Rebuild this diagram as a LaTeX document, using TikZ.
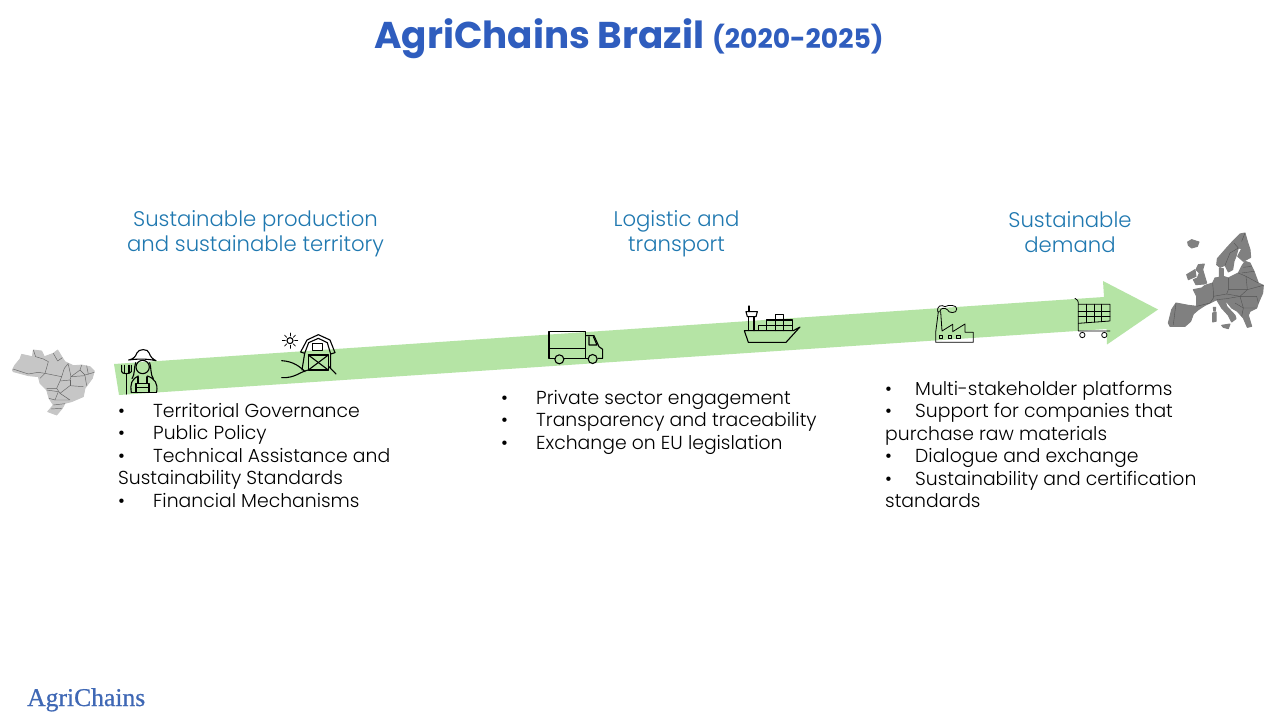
\documentclass[tikz,border=0pt]{standalone}
\usepackage{fontspec}
\setmainfont{Poppins}
\newfontfamily\lightfont{Poppins Light}
\newfontfamily\logofont[FakeBold=0.6]{Liberation Serif}
\definecolor{titleblue}{HTML}{2F5DBE}
\definecolor{headblue}{HTML}{1F78B0}
\definecolor{arrowgreen}{HTML}{B5E4A5}
\definecolor{logoblue}{HTML}{3F68B5}
\definecolor{brazilgray}{HTML}{C6C6C6}
\definecolor{europegray}{HTML}{808080}
\tikzset{
  heading/.style={text=headblue,align=center,font=\lightfont\fontsize{21.2}{25}\selectfont,inner sep=0pt},
  bulletlist/.style={text=black,align=left,anchor=north west,font=\lightfont\fontsize{18.8}{22.5}\selectfont,inner sep=0pt},
  icon/.style={draw=black,line width=1.1pt,line join=round,line cap=round},
  thinicon/.style={draw=black,line width=0.8pt,line join=round,line cap=round},
  brazilmap/.style={fill=brazilgray,draw=brazilgray,line width=0.8pt,line join=round},
  brazilborder/.style={draw=brazilgray!50!black,line width=0.45pt,line join=round},
  europemap/.style={fill=europegray,draw=europegray,line width=1pt,line join=round},
  europeborder/.style={draw=europegray!65!black,line width=0.4pt,line join=round},
}
\newcommand{\bul}[1]{\makebox[#1][l]{•}}
\begin{document}
\begin{tikzpicture}[x=1pt,y=-1pt]
\useasboundingbox (0,0) rectangle (1280,720);
\fill[white] (0,0) rectangle (1280,720);

% arrow
\fill[arrowgreen] (114,364) -- (1104,297) -- (1103,281) -- (1158,309.5) -- (1107,344.5) -- (1106.5,329) -- (119,395) -- cycle;

% title
\node[inner sep=0pt,anchor=base,text=titleblue] (title) at (629,48) {\fontsize{37.3}{40}\selectfont\bfseries AgriChains Brazil \fontsize{26.7}{40}\selectfont (2020-2025)};

% headings
\node[heading] (h1) at (255.5,234) {Sustainable production\\and sustainable territory};
\node[heading] (h2) at (676.5,234) {Logistic and\\transport};
\node[heading] (h3) at (1070,232) {Sustainable\\demand};

% lists
\node[bulletlist] (l1) at (118,403) {\bul{35pt}Territorial Governance\\\bul{35pt}Public Policy\\\bul{35pt}Technical Assistance and\\Sustainability Standards\\\bul{35pt}Financial Mechanisms};
\node[bulletlist] (l2) at (501,390) {\bul{35pt}Private sector engagement\\\bul{35pt}Transparency and traceability\\\bul{35pt}Exchange on EU legislation};
\node[bulletlist] (l3) at (885,381) {\bul{30pt}Multi-stakeholder platforms\\\bul{30pt}Support for companies that\\purchase raw materials\\\bul{30pt}Dialogue and exchange\\\bul{30pt}Sustainability and certification\\standards};

% logo
\node[inner sep=0pt,anchor=base west,text=logoblue] (logo) at (27,706) {\logofont\fontsize{25.6}{28}\selectfont AgriChains};

% Brazil map (crop coordinates, 3x)
\begin{scope}[shift={(5,345)},xscale=1/3,yscale=1/3]
\path[brazilmap] (22,75) -- (30,60) -- (45,42) -- (50,28) -- (82,35) -- (85,15) -- (110,18) -- (118,35) -- (145,25) -- (158,15) -- (172,38) -- (180,50) -- (205,62) -- (230,60) -- (255,65) -- (268,78) -- (262,100) -- (240,130) -- (235,155) -- (200,170) -- (180,175) -- (172,190) -- (155,210) -- (128,200) -- (145,180) -- (132,160) -- (125,135) -- (105,115) -- (100,95) -- (70,92) -- (25,80) -- cycle;
\draw[brazilborder] (24,72) -- (70,87) -- (100,82) -- (120,85);
\draw[brazilborder] (85,15) -- (92,35) -- (115,42) -- (130,50) -- (120,85) -- (170,95) -- (178,70) -- (190,55);
\draw[brazilborder] (145,25) -- (158,48) -- (172,38);
\draw[brazilborder] (120,85) -- (105,100);
\draw[brazilborder] (170,95) -- (165,108) -- (155,130) -- (125,130);
\draw[brazilborder] (165,108) -- (195,105) -- (198,95) -- (225,75) -- (230,60);
\draw[brazilborder] (190,58) -- (198,95);
\draw[brazilborder] (225,75) -- (240,90) -- (268,82);
\draw[brazilborder] (245,62) -- (250,88);
\draw[brazilborder] (198,95) -- (240,92) -- (245,122);
\draw[brazilborder] (155,130) -- (165,145) -- (195,122) -- (235,125);
\draw[brazilborder] (195,105) -- (195,122);
\draw[brazilborder] (125,135) -- (160,140) -- (150,165) -- (132,160);
\draw[brazilborder] (150,165) -- (195,165) -- (165,145);
\draw[brazilborder] (145,180) -- (180,176);
\draw[brazilborder] (138,192) -- (170,190);
\end{scope}

% Farmer
\begin{scope}[shift={(0,320)},xscale=1/3,yscale=1/3]
\draw[icon] (386,120) .. controls (400,118) and (408,108) .. (410,100) .. controls (415,85) and (445,85) .. (448,100) .. controls (450,108) and (458,118) .. (468,122) .. controls (440,116) and (415,116) .. (386,120) -- cycle;
\draw[icon] (428,141) circle (20);
\draw[icon] (407,128) .. controls (402,140) and (405,165) .. (396,176);
\draw[icon] (449,128) .. controls (454,140) and (451,165) .. (460,176);
\draw[icon] (394,218) .. controls (390,190) and (395,178) .. (415,168);
\draw[icon] (442,168) .. controls (465,176) and (474,190) .. (470,216);
\draw[icon] (394,217) -- (470,217);
\draw[icon] (408,217) -- (408,190) -- (447,190) -- (447,217);
\draw[icon] (414,190) -- (414,170);
\draw[icon] (441,190) -- (441,170);
\draw[icon] (408,202) -- (447,202);
\draw[icon] (380,160) -- (380,222);
\draw[icon] (365,136) -- (365,155) .. controls (366,163) and (390,163) .. (394,155) -- (394,136);
\draw[icon] (373,136) -- (373,158);
\draw[icon] (387,136) -- (387,158);
\end{scope}

% Barn
\begin{scope}[shift={(0,320)},xscale=1/3,yscale=1/3]
\draw[icon] (870,62) circle (9);
\foreach \a in {0,45,...,315} {\draw[thinicon] (870,62) ++(\a:14) -- ++(\a:9);}
\draw[icon] (906,150) -- (914,100) -- (902,96) -- (921,60) -- (955,44) -- (990,60) -- (1005,98) -- (992,102) -- (992,145);
\draw[icon] (914,100) -- (926,68) -- (955,55) -- (982,68) -- (992,102);
\draw[icon] (938,71) rectangle (968,92);
\draw[icon] (925,105) rectangle (985,150);
\draw[icon] (925,105) -- (985,150);
\draw[icon] (925,150) -- (985,105);
\draw[icon] (845,122) .. controls (880,124) and (900,140) .. (915,155);
\draw[icon] (845,173) .. controls (885,175) and (900,155) .. (925,150);
\draw[icon] (985,138) -- (1008,162);
\end{scope}

% Truck
\begin{scope}[shift={(530,290)},xscale=1/3,yscale=1/3]
\draw[icon] (75,205) -- (57,205) -- (57,125) -- (167,125) -- (167,205) -- (102,205);
\draw[icon] (57,175) -- (167,175);
\draw[icon] (88,208) circle (13.5);
\draw[icon] (188,207) circle (13.5);
\draw[icon] (167,137) -- (192,137) -- (207,170) -- (218,178) -- (218,205) -- (204,205);
\draw[icon] (167,205) -- (174,205);
\draw[icon] (177,140) -- (177,165) -- (201,165) -- (190,140);
\end{scope}

% Ship
\begin{scope}[shift={(530,290)},xscale=1/3,yscale=1/3]
\draw[icon] (643,122) -- (790,122) -- (810,111) -- (768,157) -- (655,157) -- cycle;
\draw[icon] (657,48) -- (657,65);
\draw[icon] (648,65) -- (682,65) -- (678,80) -- (652,80) -- cycle;
\draw[icon] (655,80) -- (655,122);
\draw[icon] (672,80) -- (672,122);
\draw[icon] (686,107) rectangle (710,122);
\draw[icon] (710,90) rectangle (787,122);
\draw[icon] (710,107) -- (787,107);
\draw[icon] (736,90) -- (736,122);
\draw[icon] (760,90) -- (760,122);
\draw[icon] (736,73) rectangle (760,90);
\end{scope}

% Factory
\begin{scope}[shift={(920,225)},xscale=1/3,yscale=1/3]
\draw[thinicon] (47,352) -- (47,322) -- (55,260) -- (62,260) -- (66,318) -- (98,298) -- (98,320) -- (135,297) -- (135,322) -- (160,322) -- (160,352) -- cycle;
\draw[thinicon] (54,262) .. controls (48,242) and (65,238) .. (75,245) .. controls (85,238) and (112,240) .. (110,252) .. controls (112,266) and (85,266) .. (82,254) .. controls (75,248) and (62,248) .. (60,258);
\draw[thinicon] (58,332) rectangle (68,340);
\draw[thinicon] (85,332) rectangle (95,340);
\draw[thinicon] (110,332) rectangle (122,340);
\end{scope}

% Cart
\begin{scope}[shift={(920,225)},xscale=1/3,yscale=1/3]
\draw[thinicon] (465,220) .. controls (472,222) and (475,228) .. (475,238) -- (475,318) -- (570,318);
\draw[thinicon] (475,238) -- (570,238) -- (570,288) -- (475,295);
\draw[thinicon] (475,258) -- (570,258);
\draw[thinicon] (475,275) -- (570,275);
\draw[thinicon] (500,238) -- (500,293);
\draw[thinicon] (522,238) -- (522,291);
\draw[thinicon] (545,238) -- (545,290);
\draw[thinicon] (487,330) circle (8);
\draw[thinicon] (553,330) circle (8);
\end{scope}

% Europe map (crop coordinates, 3x)
\begin{scope}[shift={(1160,228)},xscale=1/3,yscale=1/3]
\path[europemap] (25,285) -- (35,245) -- (48,225) -- (85,232) -- (110,235) -- (110,205) -- (100,185) -- (125,180) -- (135,172) -- (158,165) -- (165,150) -- (178,148) -- (178,120) -- (190,122) -- (190,145) -- (205,150) -- (235,135) -- (245,115) -- (255,100) -- (270,105) -- (282,130) -- (295,165) -- (310,172) -- (308,195) -- (295,225) -- (290,240) -- (270,250) -- (265,262) -- (275,295) -- (262,298) -- (250,270) -- (232,250) -- (215,240) -- (195,215) -- (200,235) -- (225,262) -- (228,272) -- (215,282) -- (205,262) -- (185,240) -- (170,215) -- (150,225) -- (135,232) -- (115,245) -- (100,258) -- (92,280) -- (75,295) -- (45,295) -- (30,295) -- cycle;
\path[europemap] (170,110) -- (172,92) -- (200,60) -- (220,38) -- (240,18) -- (255,15) -- (262,40) -- (270,65) -- (272,88) -- (250,100) -- (233,85) -- (245,62) -- (235,60) -- (228,85) -- (222,100) -- (218,125) -- (205,132) -- (195,112) -- (180,118) -- cycle;
\path[europemap] (115,110) -- (133,108) -- (128,125) -- (140,165) -- (132,168) -- (108,170) -- (100,155) -- (112,150) -- (118,135) -- (108,125) -- cycle;
\path[europemap] (80,140) -- (105,125) -- (108,145) -- (85,155) -- cycle;
\path[europemap] (83,42) -- (95,35) -- (117,42) -- (112,55) -- (95,60) -- (85,52) -- cycle;
\path[europemap] (185,292) -- (210,288) -- (205,302) -- (190,298) -- cycle;
\path[europemap] (158,255) -- (168,252) -- (168,280) -- (158,282) -- cycle;
\path[europemap] (160,238) -- (167,238) -- (166,249) -- (161,249) -- cycle;
\draw[europeborder] (48,225) -- (40,290);
\draw[europeborder] (110,235) -- (150,225);
\draw[europeborder] (158,165) -- (160,190) -- (160,210) -- (150,225);
\draw[europeborder] (160,205) -- (200,198) -- (205,185) -- (205,150);
\draw[europeborder] (205,185) -- (262,185) -- (258,145) -- (235,135);
\draw[europeborder] (262,185) -- (310,172);
\draw[europeborder] (258,145) -- (295,165);
\draw[europeborder] (245,135) -- (282,130);
\draw[europeborder] (250,118) -- (275,115);
\draw[europeborder] (200,198) -- (240,205) -- (262,185);
\draw[europeborder] (240,205) -- (290,205) -- (295,225);
\draw[europeborder] (170,215) -- (200,212) -- (240,205) -- (250,240) -- (290,240);
\draw[europeborder] (225,225) -- (250,240) -- (245,265);
\draw[europeborder] (222,45) -- (235,60);
\draw[europeborder] (195,112) -- (210,75) -- (235,60);
\draw[europeborder] (245,40) -- (255,15);
\end{scope}
\end{tikzpicture}
\end{document}
